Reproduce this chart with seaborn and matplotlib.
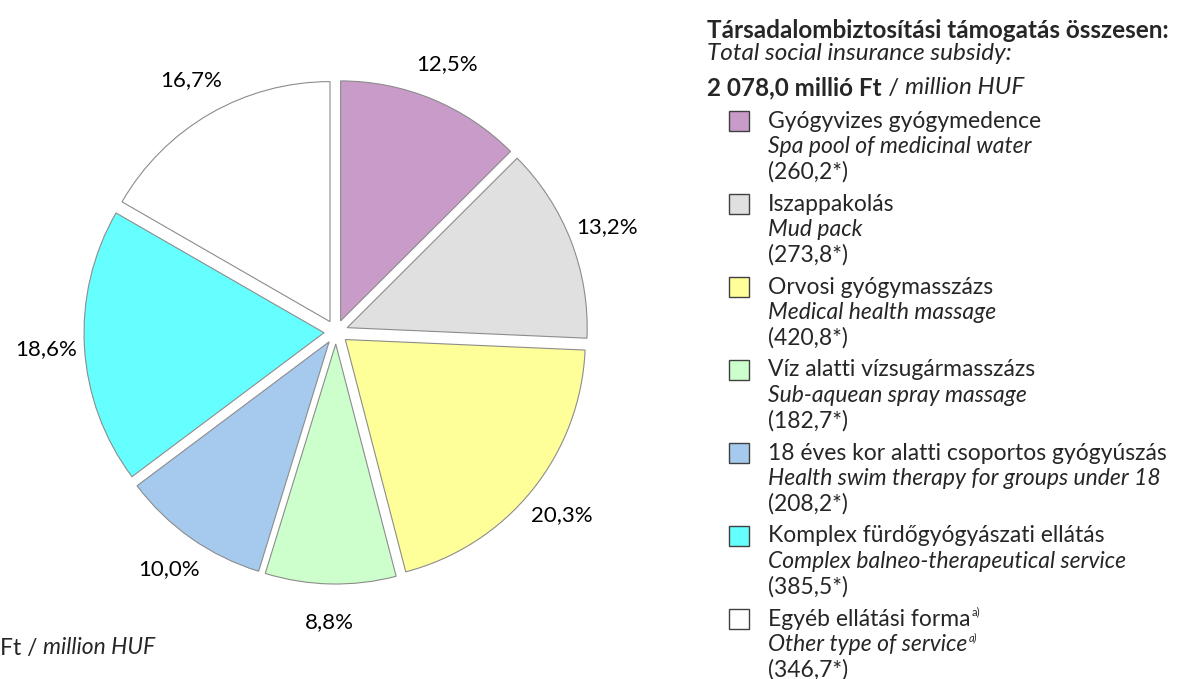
import matplotlib
matplotlib.use('Agg')
import matplotlib.pyplot as plt
import seaborn as sns

# Data
categories_hu = ['Gyógyvizes gyógymedence', 'Iszappakolás', 'Orvosi gyógymasszázs',
                 'Víz alatti vízsugármasszázs', '18 éves kor alatti csoportos gyógyúszás',
                 'Komplex fürdőgyógyászati ellátás', 'Egyéb ellátási forma']
categories_en = ['Spa pool of medicinal water', 'Mud pack', 'Medical health massage',
                 'Sub-aquean spray massage', 'Health swim therapy for groups under 18',
                 'Complex balneo-therapeutical service', 'Other type of service']
values = [260.2, 273.8, 420.8, 182.7, 208.2, 385.5, 346.7]
value_labels = ['(260,2*)', '(273,8*)', '(420,8*)', '(182,7*)', '(208,2*)', '(385,5*)', '(346,7*)']
footnote_flags = [False, False, False, False, False, False, True]
total_label = '2 078,0 millió Ft'

colors = ['#C99BC9', '#E0E0E0', '#FFFF99', '#CCFFCC', '#A6CAEE', '#66FFFF', '#FFFFFF']

sns.set_theme(style='white')
plt.rcParams['font.family'] = ['Lato', 'DejaVu Sans']

W, H = 1180, 679
fig = plt.figure(figsize=(W / 100, H / 100), dpi=100)
fig.patch.set_facecolor('white')

# pie axes: center at (336, 332) px, radius 240 px
ax = fig.add_axes([0, 11 / H, 672 / W, 672 / H])

wedges, texts = ax.pie(
    values, colors=colors, startangle=90, counterclock=False,
    explode=[0.05] * len(values), radius=1.0,
    labels=[f"{v / sum(values) * 100:.1f}%".replace('.', ',') for v in values],
    labeldistance=1.16,
    wedgeprops=dict(edgecolor='#8C8C8C', linewidth=0.8),
    textprops=dict(fontsize=16, color='black'))
for t in texts:
    t.set_ha('center')
    t.set_va('center')
ax.set_xlim(-1.4, 1.4)
ax.set_ylim(-1.4, 1.4)
ax.set_aspect('equal')
ax.axis('off')

renderer = fig.canvas.get_renderer()


def put_runs(x, y, runs, va='center'):
    """Draw text pieces one after another, x/y in pixels from top-left."""
    for txt, kw in runs:
        t = fig.text(x / W, 1 - y / H, txt, va=va, ha='left', **kw)
        bb = t.get_window_extent(renderer=renderer)
        x += bb.width
    return x


# header
fs_head = 17.5
put_runs(707, 31, [('Társadalombiztosítási támogatás összesen:', dict(fontsize=fs_head, fontweight='bold'))])
put_runs(707, 53, [('Total social insurance subsidy:', dict(fontsize=fs_head, style='italic'))])
put_runs(707, 88, [(total_label, dict(fontsize=fs_head, fontweight='bold')),
                   (' / ', dict(fontsize=fs_head)),
                   ('million HUF', dict(fontsize=fs_head, style='italic'))])

# legend entries
fs_leg = 16.5
y0, step, line = 121, 83, 25.5
for i in range(len(values)):
    y = y0 + i * step
    sq = plt.Rectangle((729 / W, 1 - (y + 10) / H), 20 / W, 20 / H,
                       transform=fig.transFigure, facecolor=colors[i],
                       edgecolor='#404040', linewidth=1.0)
    fig.patches.append(sq)
    if footnote_flags[i]:
        xe = put_runs(768, y, [(categories_hu[i], dict(fontsize=fs_leg))])
        put_runs(xe + 1, y - 7, [('a)', dict(fontsize=8))])
        xe = put_runs(768, y + line, [(categories_en[i], dict(fontsize=fs_leg, style='italic'))])
        put_runs(xe + 1, y + line - 7, [('a)', dict(fontsize=8, style='italic'))])
    else:
        put_runs(768, y, [(categories_hu[i], dict(fontsize=fs_leg))])
        put_runs(768, y + line, [(categories_en[i], dict(fontsize=fs_leg, style='italic'))])
    put_runs(768, y + 2 * line, [(value_labels[i], dict(fontsize=fs_leg))])

# bottom-left note (cut off at the left edge in the original)
put_runs(0, 648, [('Ft / ', dict(fontsize=fs_leg)), ('million HUF', dict(fontsize=fs_leg, style='italic'))])

fig.savefig('out.png', dpi=100, facecolor='white')
